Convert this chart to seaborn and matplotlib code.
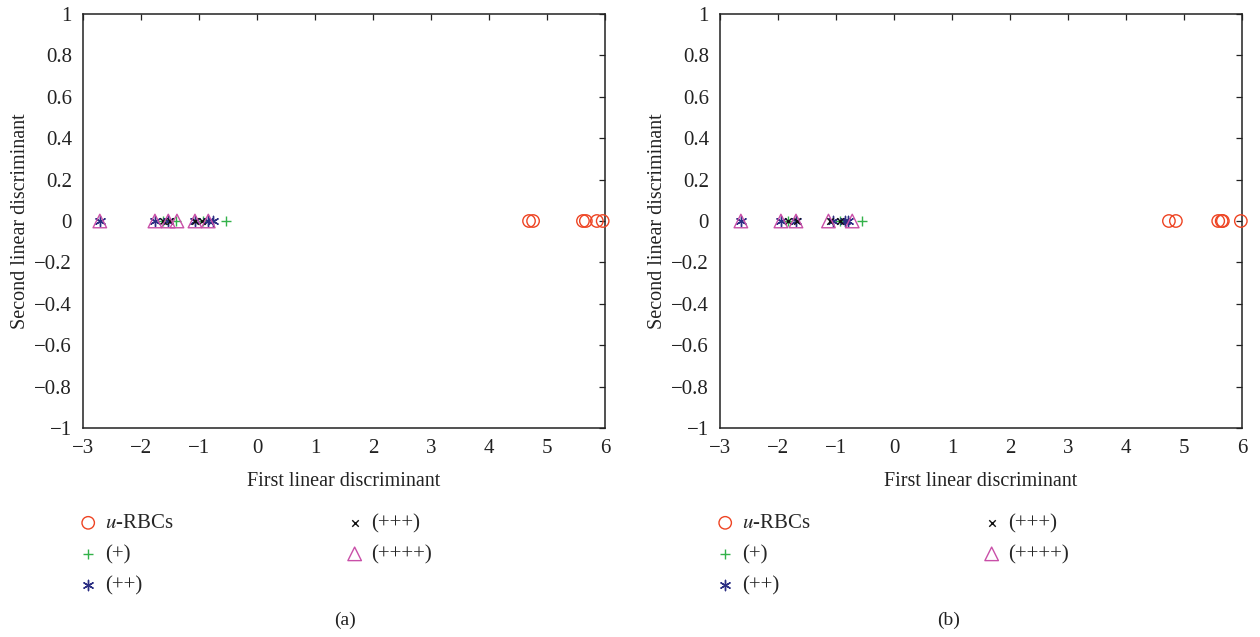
import matplotlib
matplotlib.use("Agg")
import matplotlib.pyplot as plt
import seaborn as sns
import pandas as pd

sns.set_theme(style="white")
plt.rcParams["font.family"] = ["Liberation Serif", "DejaVu Serif"]
plt.rcParams["mathtext.fontset"] = "stix"

# First linear discriminant scores for each class (second discriminant is zero)
classes = ["u-RBCs", "(+)", "(++)", "(+++)", "(++++)"]
legend_labels = [r"$u$-RBCs", "(+)", "(++)", "(+++)", "(++++)"]

panel_a = {
    "u-RBCs": [4.69, 4.76, 5.62, 5.67, 5.86, 5.96],
    "(+)": [-1.62, -1.40, -0.93, -0.53],
    "(++)": [-2.71, -1.76, -1.53, -1.07, -0.84, -0.76],
    "(+++)": [-1.62, -1.50, -1.07, -0.95],
    "(++++)": [-2.71, -1.76, -1.53, -1.38, -1.07, -0.84],
}
panel_b = {
    "u-RBCs": [4.74, 4.86, 5.59, 5.65, 5.67, 5.98],
    "(+)": [-1.83, -0.93, -0.55],
    "(++)": [-2.64, -1.95, -1.69, -1.05, -0.84, -0.79],
    "(+++)": [-1.83, -1.67, -1.10, -0.93],
    "(++++)": [-2.64, -1.95, -1.69, -1.13, -0.72],
}

colors = {
    "u-RBCs": "#EE4423",
    "(+)": "#33B24A",
    "(++)": "#2B2E83",
    "(+++)": "#111111",
    "(++++)": "#C94FA8",
}
markers = {
    "u-RBCs": "o",
    "(+)": "+",
    "(++)": (6, 2, 0),
    "(+++)": "x",
    "(++++)": "^",
}
sizes = {"u-RBCs": 80, "(+)": 60, "(++)": 55, "(+++)": 22, "(++++)": 95}
open_markers = {"u-RBCs", "(++++)"}

xticks = list(range(-3, 7))
yticks = [-1, -0.8, -0.6, -0.4, -0.2, 0, 0.2, 0.4, 0.6, 0.8, 1]
ytick_labels = ["\u22121", "\u22120.8", "\u22120.6", "\u22120.4", "\u22120.2",
                "0", "0.2", "0.4", "0.6", "0.8", "1"]
xtick_labels = [("\u2212" + str(-t)) if t < 0 else str(t) for t in xticks]

fig = plt.figure(figsize=(12.6, 6.37), dpi=100)
ax_a = fig.add_axes([83 / 1260, 209 / 637, 522 / 1260, 414 / 637])
ax_b = fig.add_axes([720 / 1260, 209 / 637, 522 / 1260, 414 / 637])


def draw_panel(ax, data, caption, caption_x):
    for cls, lab in zip(classes, legend_labels):
        df = pd.DataFrame({"ld1": data[cls], "ld2": [0.0] * len(data[cls])})
        sns.scatterplot(data=df, x="ld1", y="ld2", ax=ax, marker=markers[cls],
                        color=colors[cls], s=sizes[cls], linewidth=1.0,
                        label=lab, clip_on=False, zorder=3)
        coll = ax.collections[-1]
        if cls in open_markers:
            coll.set_facecolor("none")
            coll.set_edgecolor(colors[cls])
    ax.set_xlim(-3, 6)
    ax.set_ylim(-1, 1)
    ax.set_xticks(xticks)
    ax.set_xticklabels(xtick_labels)
    ax.set_yticks(yticks)
    ax.set_yticklabels(ytick_labels)
    ax.tick_params(direction="in", length=4, width=0.9, top=True, right=True,
                   labelsize=15, pad=8, colors="#222222")
    for sp in ax.spines.values():
        sp.set_visible(True)
        sp.set_color("#222222")
        sp.set_linewidth(1.1)
    ax.set_xlabel("First linear discriminant", fontsize=14.5, labelpad=10,
                  color="#222222")
    ax.set_ylabel("Second linear discriminant", fontsize=14.5, labelpad=3,
                  color="#222222")
    ax.legend(loc="upper left", bbox_to_anchor=(-0.01, -0.207), ncol=2,
              frameon=False, fontsize=15, handlelength=1.0,
              handletextpad=0.3, columnspacing=8.2, labelspacing=0.55,
              borderpad=0, borderaxespad=0)
    fig.text(caption_x / 1260, 1 - 620 / 637, caption, ha="center",
             va="center", fontsize=14, color="#222222")


draw_panel(ax_a, panel_a, "(a)", 345)
draw_panel(ax_b, panel_b, "(b)", 949)

fig.savefig("out.png", dpi=100)
